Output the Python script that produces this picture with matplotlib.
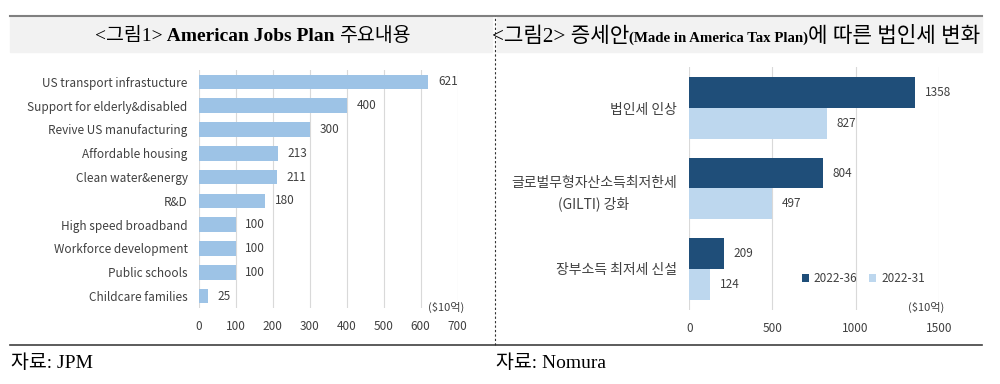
import matplotlib
matplotlib.use("Agg")
import matplotlib.pyplot as plt
from matplotlib.lines import Line2D
from matplotlib.patches import Rectangle

# left chart: American Jobs Plan
jobs_labels = ["US transport infrastucture", "Support for elderly&disabled",
               "Revive US manufacturing", "Affordable housing", "Clean water&energy",
               "R&D", "High speed broadband", "Workforce development",
               "Public schools", "Childcare families"]
jobs_values = [621, 400, 300, 213, 211, 180, 100, 100, 100, 25]
jobs_ticks = [0, 100, 200, 300, 400, 500, 600, 700]

# right chart: Made in America Tax Plan
tax_labels = ["법인세 인상", "글로벌무형자산소득최저한세\n(GILTI) 강화", "장부소득 최저세 신설"]
tax_2036 = [1358, 804, 209]
tax_2031 = [827, 497, 124]
tax_ticks = [0, 500, 1000, 1500]
series_names = ["2022-36", "2022-31"]

SANS = ["Noto Sans CJK KR", "DejaVu Sans"]
SERIF = ["Liberation Serif", "Noto Sans CJK KR"]
plt.rcParams["font.family"] = SANS

LIGHT = "#9DC3E6"
DARK = "#1F4E79"
PALE = "#BDD7EE"
GRID = "#D9D9D9"
TXT = "#404040"
W, H = 1000, 384


def fy(py):
    return 1 - py / H


def text_run(fig, parts, x, y, center=False):
    """Lay out (text, size, weight) pieces one after another on a baseline."""
    arts = [fig.text(0, y, s, fontsize=sz, fontweight=wt, family=SERIF,
                     ha="left", va="baseline", color="black") for s, sz, wt in parts]
    fig.canvas.draw()
    r = fig.canvas.get_renderer()
    widths = [a.get_window_extent(r).width / W for a in arts]
    if center:
        x -= sum(widths) / 2
    for a, w in zip(arts, widths):
        a.set_x(x)
        x += w


fig = plt.figure(figsize=(10, 3.84), dpi=100)

# frame: title bands, rules, divider
fig.patches.append(Rectangle((0.010, fy(52)), 0.482, 35 / H,
                             transform=fig.transFigure, color="#F2F2F2", zorder=0))
fig.patches.append(Rectangle((0.497, fy(52)), 0.485, 35 / H,
                             transform=fig.transFigure, color="#F2F2F2", zorder=0))
fig.lines.append(Line2D([0.010, 0.982], [fy(16)] * 2, transform=fig.transFigure,
                        color="#808080", lw=1.5))
fig.lines.append(Line2D([0.010, 0.982], [fy(345)] * 2, transform=fig.transFigure,
                        color="#404040", lw=1.2))
fig.lines.append(Line2D([0.495, 0.495], [fy(345), fy(16)],
                        transform=fig.transFigure, color="#303030", lw=0.8, ls=(0, (2, 2))))

# titles
text_run(fig, [("<그림1>", 14, "normal"), (" American Jobs Plan ", 14, "bold"),
               ("주요내용", 14, "normal")], 0.253, fy(41), center=True)
text_run(fig, [("<그림2> 증세안", 15.3, "normal"),
               ("(Made in America Tax Plan)", 10.7, "bold"),
               ("에 따른 법인세 변화", 15.3, "normal")], 0.492, fy(42))

# sources
fig.text(0.011, fy(363), "자료: JPM", ha="left", va="center", fontsize=14,
         family=SERIF, color="black")
fig.text(0.496, fy(363), "자료: Nomura", ha="left", va="center", fontsize=14,
         family=SERIF, color="black")

# left chart
ax1 = fig.add_axes([0.1987, fy(308), 0.259, 238 / H])
ypos = list(range(len(jobs_values)))
ax1.barh(ypos, jobs_values, height=0.62, color=LIGHT, zorder=2)
for y, v in zip(ypos, jobs_values):
    ax1.annotate(str(v), (v, y), xytext=(7, 0), textcoords="offset points",
                 ha="left", va="center", fontsize=8.5, color=TXT)
ax1.set_ylim(len(jobs_values) - 0.5, -0.5)
ax1.set_xlim(0, 700)
ax1.set_xticks(jobs_ticks)
ax1.set_yticks(ypos)
ax1.set_yticklabels(jobs_labels)
ax1.grid(axis="x", color=GRID, lw=0.8, zorder=0)
ax1.set_axisbelow(True)
for s in ax1.spines.values():
    s.set_visible(False)
ax1.tick_params(length=0, labelsize=8.5, colors=TXT, pad=8)
ax1.tick_params(axis="x", pad=9)
ax1.text(0.955, 0.004, "($10억)", transform=ax1.transAxes, ha="center", va="center",
         fontsize=8, color=TXT)

# right chart
ax2 = fig.add_axes([0.6893, fy(310), 0.2494, 243 / H])
gpos = list(range(len(tax_labels)))
h = 0.385
ax2.barh([g - h / 2 for g in gpos], tax_2036, height=h, color=DARK, zorder=2,
         label=series_names[0])
ax2.barh([g + h / 2 for g in gpos], tax_2031, height=h, color=PALE, zorder=2,
         label=series_names[1])
for g, a, b in zip(gpos, tax_2036, tax_2031):
    ax2.annotate(str(a), (a, g - h / 2), xytext=(7, 0), textcoords="offset points",
                 ha="left", va="center", fontsize=8.5, color=TXT)
    ax2.annotate(str(b), (b, g + h / 2), xytext=(7, 0), textcoords="offset points",
                 ha="left", va="center", fontsize=8.5, color=TXT)
ax2.set_ylim(len(tax_labels) - 0.49, -0.51)
ax2.set_xlim(0, 1500)
ax2.set_xticks(tax_ticks)
ax2.set_yticks(gpos)
ax2.set_yticklabels(tax_labels, multialignment="center", linespacing=1.6)
ax2.grid(axis="x", color=GRID, lw=0.8, zorder=0)
ax2.set_axisbelow(True)
for s in ax2.spines.values():
    s.set_visible(False)
ax2.tick_params(axis="y", length=0, labelsize=10, colors=TXT, pad=9)
ax2.tick_params(axis="x", length=0, labelsize=8.5, colors=TXT, pad=9)
ax2.legend(loc="center right", bbox_to_anchor=(0.968, 0.128), ncol=2, frameon=False,
           fontsize=8.5, handlelength=0.6, handleheight=0.6, handletextpad=0.4,
           columnspacing=1.0, labelcolor=TXT, borderpad=0)
ax2.text(0.951, 0.01, "($10억)", transform=ax2.transAxes, ha="center", va="center",
         fontsize=8, color=TXT)

fig.savefig("out.png", dpi=100)
